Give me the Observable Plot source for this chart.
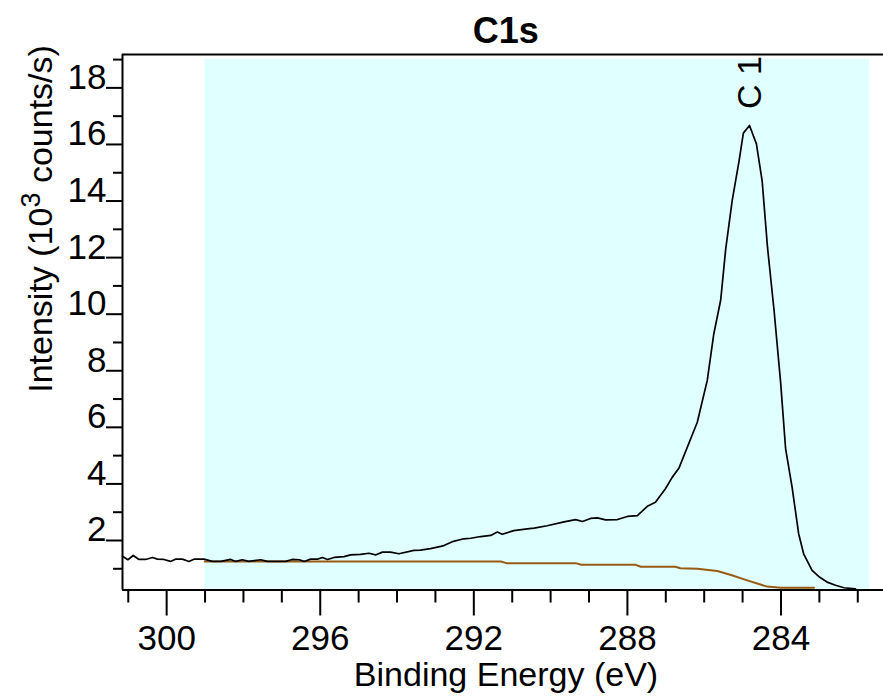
<!DOCTYPE html>
<html>
<head>
<meta charset="utf-8">
<script src="https://cdn.jsdelivr.net/npm/d3@7"></script>
<script src="https://cdn.jsdelivr.net/npm/@observablehq/plot@0.6"></script>
<style>
  html, body { margin: 0; padding: 0; background: #ffffff; }
  body { width: 883px; height: 696px; overflow: hidden; font-family: "Liberation Sans", Arial, sans-serif; }
  #title { position: relative; width: 883px; height: 50px; }
  #title span { position: absolute; left: 505.8px; top: 13.4px; transform: translateX(-50%);
    font: bold 36px/36px "Liberation Sans", Arial, sans-serif; color: #000; white-space: nowrap; }
  #chart svg { display: block; }
</style>
</head>
<body>
<div id="title"><span>C1s</span></div>
<div id="chart"></div>
<script>
// ---- data (binding energy in eV, intensity in 10^3 counts/s) ----
const energy = [
  301.15, 301.01, 300.87, 300.72, 300.55, 300.37, 300.24, 300.07, 299.90, 299.77,
  299.59, 299.42, 299.29, 299.03, 298.81, 298.59, 298.33, 298.20, 298.03, 297.86,
  297.55, 297.38, 297.12, 296.90, 296.73, 296.55, 296.42, 296.25, 296.07, 295.94,
  295.81, 295.64, 295.38, 295.21, 294.95, 294.73, 294.56, 294.38, 294.17, 293.95,
  293.56, 293.39, 293.13, 292.86, 292.78, 292.53, 292.26, 292.08, 291.82, 291.56,
  291.39, 291.26, 290.96, 290.61, 290.43, 290.09, 289.65, 289.35, 289.17, 288.96,
  288.78, 288.57, 288.26, 288.00, 287.74, 287.48, 287.27, 287.01, 286.83, 286.66,
  286.18, 285.92, 285.75, 285.57, 285.44, 285.27, 285.09, 284.98, 284.82, 284.64,
  284.49, 284.35, 284.18, 284.01, 283.88, 283.71, 283.54, 283.41, 283.19, 282.99,
  282.80, 282.58, 282.36, 282.06
];
const intensity = [
  1.44, 1.32, 1.47, 1.33, 1.33, 1.40, 1.34, 1.33, 1.26, 1.34,
  1.34, 1.26, 1.34, 1.34, 1.26, 1.26, 1.33, 1.26, 1.32, 1.26,
  1.32, 1.26, 1.26, 1.26, 1.33, 1.32, 1.26, 1.34, 1.34, 1.40,
  1.33, 1.40, 1.43, 1.49, 1.51, 1.55, 1.49, 1.59, 1.59, 1.53,
  1.65, 1.66, 1.71, 1.79, 1.82, 1.97, 2.06, 2.08, 2.14, 2.18,
  2.30, 2.22, 2.35, 2.41, 2.44, 2.52, 2.66, 2.74, 2.67, 2.78,
  2.80, 2.73, 2.74, 2.85, 2.88, 3.21, 3.35, 3.83, 4.24, 4.55,
  6.18, 7.66, 9.30, 10.5, 12.3, 14.02, 15.43, 16.40, 16.67, 16.02,
  14.70, 12.35, 10.13, 7.60, 5.25, 3.88, 2.24, 1.53, 0.94, 0.70,
  0.53, 0.42, 0.33, 0.29
];
// background (brown) line
const bgEnergy    = [299.01, 291.30, 291.15, 289.35, 289.20, 287.78, 287.65, 286.75, 286.62, 286.18, 285.66, 285.30, 284.88, 284.36, 284.01, 283.14];
const bgIntensity = [1.26,   1.26,   1.20,   1.20,   1.14,   1.14,   1.07,   1.07,   1.02,   1.00,   0.92,   0.78,   0.59,   0.37,   0.33,   0.33];
// shaded region (eV) and its top (intensity)
const regionEnergy = [299.0, 281.69];
const regionTop = 19;
// peak annotation
const peakLabels = ["C 1s"];
const peakEnergy = [284.81];
const peakLabelIntensity = [17.25];
// axes
const xDomain = [281.33, 301.15];
const yDomain = [0.25, 19.18];
const xMajorTicks = [300, 296, 292, 288, 284];
const xMinorTicks = [301, 299, 298, 297, 295, 294, 293, 291, 290, 289, 287, 286, 285, 283, 282];
const yMajorTicks = [2, 4, 6, 8, 10, 12, 14, 16, 18];
const yMinorTicks = [1, 3, 5, 7, 9, 11, 13, 15, 17, 19];
const xTitle = "Binding Energy (eV)";
const yTitle = "Intensity (10³ counts/s)";

// ---- build tables ----
const spectrum = energy.map((e, i) => ({e, v: intensity[i]}));
const background = bgEnergy.map((e, i) => ({e, v: bgIntensity[i]}));
const region = [{x1: regionEnergy[0], x2: regionEnergy[1], y1: yDomain[0], y2: regionTop}];
const peaks = peakLabels.map((t, i) => ({t, e: peakEnergy[i], v: peakLabelIntensity[i]}));

const FONT = '"Liberation Sans", Arial, sans-serif';

const svg = Plot.plot({
  width: 883,
  height: 646,
  marginTop: 4,
  marginBottom: 106.5,
  marginLeft: 122,
  marginRight: 0,
  style: {fontFamily: FONT, fontSize: "35px", background: "#ffffff", color: "#000000", overflow: "visible"},
  x: {domain: xDomain, reverse: true, label: null},
  y: {domain: yDomain, label: null},
  marks: [
    Plot.rect(region, {x1: "x1", x2: "x2", y1: "y1", y2: "y2", fill: "#E0FFFF"}),
    Plot.line(background, {x: "e", y: "v", stroke: "#9B5A13", strokeWidth: 2}),
    Plot.line(spectrum, {x: "e", y: "v", stroke: "#000000", strokeWidth: 1.7}),
    Plot.text(peaks, {x: "e", y: "v", text: "t", rotate: -90, textAnchor: "start", fontSize: 34, fill: "#000000", clip: true}),
    // frame lines (left, bottom, top)
    Plot.ruleY([yDomain[0]], {stroke: "#000000", strokeWidth: 2}),
    Plot.ruleY([yDomain[1]], {stroke: "#000000", strokeWidth: 2}),
    Plot.ruleX([xDomain[1]], {stroke: "#000000", strokeWidth: 2}),
    // x axis
    Plot.axisX(xMajorTicks, {anchor: "bottom", tickSize: 26, tickPadding: 9.5, strokeWidth: 2, tickFormat: d => String(d), label: null}),
    Plot.axisX(xMinorTicks, {anchor: "bottom", tickSize: 13, strokeWidth: 2, fill: "none", label: null}),
    // y axis
    Plot.axisY(yMajorTicks, {anchor: "left", tickSize: 16, strokeWidth: 2, fill: "none", label: null}),
    Plot.axisY(yMajorTicks, {anchor: "left", tickSize: 0, tickPadding: 16, dy: -10.2, tickFormat: d => String(d), label: null}),
    Plot.axisY(yMinorTicks, {anchor: "left", tickSize: 9, strokeWidth: 2, fill: "none", label: null}),
    // axis titles
    Plot.text([xTitle], {text: d => d, frameAnchor: "bottom", lineAnchor: "top", dx: 3, dy: 72.2, fontSize: 34, fill: "#000000"}),
    Plot.text([yTitle], {text: d => d, frameAnchor: "left", rotate: -90, dx: -81.5, dy: -103.3, fontSize: 34, fill: "#000000"})
  ]
});

document.getElementById("chart").appendChild(svg);

// render the superscript "3" as a raised tspan (still real text), centred on its anchor
d3.select(svg).selectAll("text").filter(function () { return this.textContent === yTitle; }).each(function () {
  const t = d3.select(this);
  t.text(null);
  t.append("tspan").text("Intensity (10");
  t.append("tspan").attr("dy", -12).attr("font-size", 27).text("3");
  t.append("tspan").attr("dy", 12).text(" counts/s)");
  t.attr("text-anchor", "start");
  const len = this.getComputedTextLength();
  t.attr("x", -len / 2);
});
</script>
</body>
</html>
